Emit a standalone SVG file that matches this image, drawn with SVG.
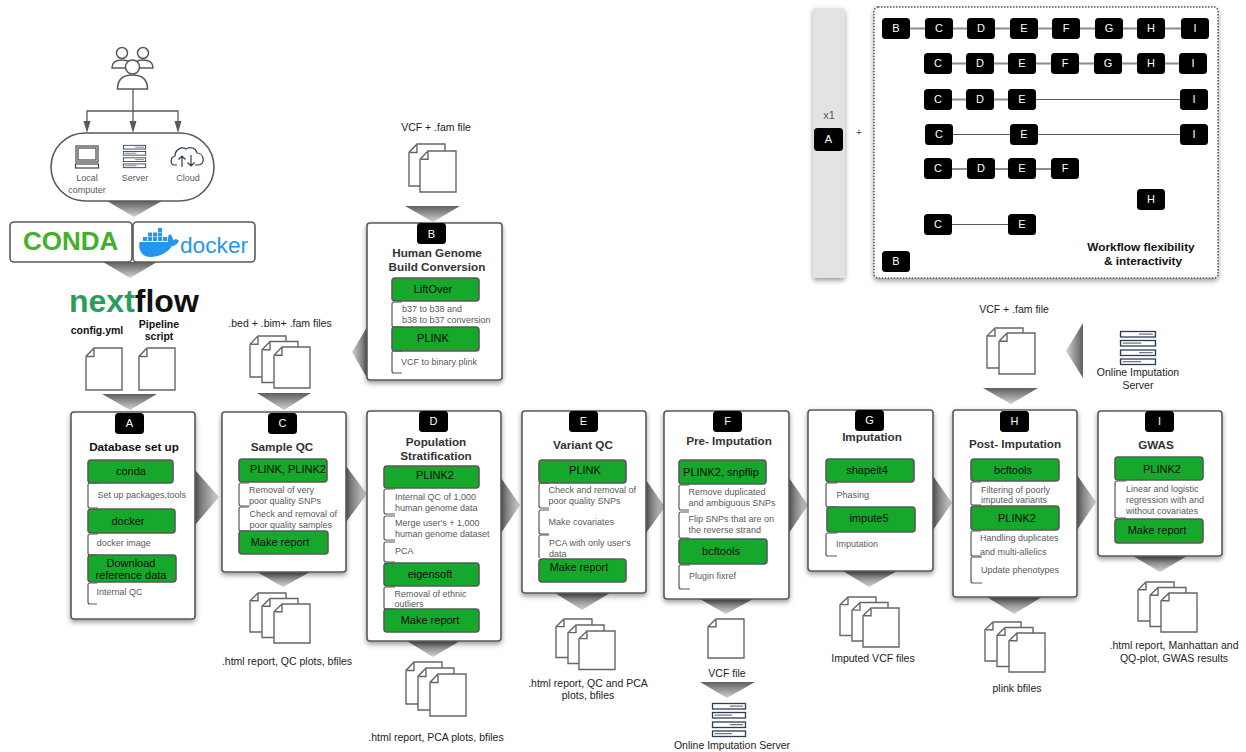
<svg xmlns="http://www.w3.org/2000/svg" width="1246" height="752" viewBox="0 0 1246 752">
<style>
text{font-family:"Liberation Sans",Arial,sans-serif}
.box{fill:#fff;stroke:#595959;stroke-width:1.6;filter:url(#sh)}
.g{fill:#15a82a;stroke:#595959;stroke-width:1.6}
.br{fill:none;stroke:#595959;stroke-width:1.2}
.t{font-weight:bold;font-size:11.7px;fill:#333;text-anchor:middle}
.gt{font-size:11px;fill:#0c0c0c;text-anchor:middle}
.d{font-size:9px;fill:#595959}
.o{font-size:10.5px;fill:#222;text-anchor:middle}
.bt{font-size:11px;fill:#fff;text-anchor:middle}
.ic{font-size:9px;fill:#595959;text-anchor:middle}
.l1{stroke:#8c8c8c;stroke-width:2;fill:none}
.l2{stroke:#595959;stroke-width:1.2;fill:none}
.ar{stroke:#595959;stroke-width:1.3;fill:none}
symbol{overflow:visible}
</style>
<defs>
<filter id="sh" x="-15%" y="-15%" width="130%" height="130%"><feDropShadow dx="0" dy="2.5" stdDeviation="2.5" flood-color="#000" flood-opacity=".4"/></filter>
<linearGradient id="gd" x1="0" y1="0" x2="0" y2="1"><stop offset="0" stop-color="#5e5e5e"/><stop offset="1" stop-color="#d2d2d2"/></linearGradient>
<linearGradient id="gr" x1="0" y1="0" x2="1" y2="0"><stop offset="0" stop-color="#5e5e5e"/><stop offset="1" stop-color="#d2d2d2"/></linearGradient>
<linearGradient id="gl" x1="1" y1="0" x2="0" y2="0"><stop offset="0" stop-color="#5e5e5e"/><stop offset="1" stop-color="#d2d2d2"/></linearGradient>
<symbol id="doc" viewBox="0 0 36 40" preserveAspectRatio="none"><path d="M8 0H36V40H0V8ZM8 1V8H1" fill="#fff" stroke="#666" stroke-width="1.4"/></symbol>
<symbol id="srv" viewBox="0 0 34 34" preserveAspectRatio="none"><g fill="#fff" stroke="#2c3e55" stroke-width="1.3"><rect x=".5" y=".5" width="33" height="5.5"/><rect x=".5" y="9.5" width="33" height="5.5"/><rect x=".5" y="19" width="33" height="5.5"/><rect x=".5" y="28" width="33" height="5.5"/><path d="M18 3.2H31M2.5 12.2H20M18 21.7H31M2.5 30.7H20" stroke="#777"/></g></symbol>
<rect id="bdg" width="29" height="21" rx="3.5" fill="#000"/>
<rect id="bf" width="28" height="21" rx="3.5" fill="#000"/>
</defs>

<g id="strip-A">
<rect x="813" y="8" width="32" height="270" rx="3" fill="#e3e3e3" filter="url(#sh)"/>
<text x="829" y="119" text-anchor="middle" fill="#595959" style="font-size:11px">x1</text>
<rect x="814" y="128" width="29" height="23" rx="3.5" fill="#000"/><text class="bt" x="828.500" y="143">A</text>
<text x="859" y="135.500" text-anchor="middle" fill="#595959" style="font-size:10px">+</text>
</g>

<g id="panel-flex">
<rect x="874" y="7" width="344" height="271" rx="4" fill="#fff" stroke="#595959" stroke-width="1.5" stroke-dasharray="1.500 1.500" filter="url(#sh)"/>
<text x="1141" y="251" font-weight="bold" text-anchor="middle" fill="#111" style="font-size:11.800px">Workflow flexibility</text>
<text x="1143" y="265" font-weight="bold" text-anchor="middle" fill="#111" style="font-size:11.800px">&amp; interactivity</text>
</g>

<g id="connectors">
<path class="ar" d="M133 89V124M133 111H87V124M133 111H178V124"/>
<path d="M83.5 121H90.5L87 133ZM129.5 121H136.5L133 133ZM174.5 121H181.5L178 133Z" fill="#595959"/>
<g fill="url(#gd)">
<path d="M107 201H162L134 217Z"/><path d="M103 262H157L130 278Z"/><path d="M102 394H157L130 410Z"/><path d="M257 393H311L284 410Z"/>
<path d="M405 206H460L433 222Z"/><path d="M257 572H310L283 587Z"/><path d="M407 641H460L433 657Z"/><path d="M555 593H610L582 610Z"/>
<path d="M700 599H753L726 614Z"/><path d="M700 682H755L727 698Z"/><path d="M843 571H897L869 587Z"/><path d="M983 388H1038L1011 404Z"/>
<path d="M987 597H1042L1014 614Z"/><path d="M1133 556H1187L1160 572Z"/>
</g>
<g fill="url(#gr)">
<path d="M195 470L219 497L195 525Z"/><path d="M346 466L367 494L346 522Z"/><path d="M501 478L520 505L501 533Z"/><path d="M646 480L665 507L646 533Z"/>
<path d="M789 478L808 505L789 533Z"/><path d="M933 476L952 503L933 530Z"/><path d="M1077 475L1096 502L1077 530Z"/>
</g>
<g fill="url(#gl)">
<path d="M367 327V378L352 352Z"/><path d="M1083 323V378L1066 351Z"/>
</g>
<g class="l1"><path d="M910 28.500H925M953 28.500H967M994 28.500H1010M1037 28.500H1052M1080 28.500H1095M1123 28.500H1137M1165 28.500H1181M952 63.500H966M994 63.500H1008M1036 63.500H1051M1079 63.500H1094M1122 63.500H1137M1165 63.500H1179M952 99.500H966M994 99.500H1008M952 169H967M995 169H1008M1036 169H1051"/></g>
<g class="l2"><path d="M1036 99.500H1180M953 134.500H1010M1038 134.500H1180M952 224.500H1008"/></g>
</g>

<g id="users" fill="#fff" stroke="#595959" stroke-width="1.5">
<circle cx="122" cy="53" r="5.500"/><path d="M112 68C112 62 117 60 122 60C127 60 132 62 132 68Z"/>
<circle cx="143" cy="53" r="5.500"/><path d="M133 68C133 62 138 60 143 60C148 60 153 62 153 68Z"/>
<circle cx="132.500" cy="67" r="7"/><path d="M117.500 89C117.500 79 124 75 132.500 75C141 75 147.500 79 147.500 89Z"/>
</g>

<g id="compute-env">
<rect x="51" y="133" width="163" height="68" rx="34" fill="#fff" stroke="#595959" stroke-width="1.6"/>
<g fill="#fff" stroke="#444" stroke-width="1.2"><rect x="76" y="146" width="22" height="16"/><rect x="78" y="148" width="18" height="12"/><rect x="75.500" y="164" width="23" height="4"/></g>
<use href="#srv" x="123" y="145" width="23" height="23"/>
<g fill="none" stroke="#2c3e55" stroke-width="1.2"><path d="M177 165H174C170 165 170 157 175 156C175 150 181 146 186 149C190 146 196 148 197 153C204 153 206 165 198 165H195"/><path d="M182 167V156M178.500 159.500L182 156L185.500 159.500M191 155V166M187.500 162.500L191 166L194.500 162.500"/></g>
<text class="ic" x="87" y="181">Local</text><text class="ic" x="87" y="192.500">computer</text>
<text class="ic" x="135" y="181">Server</text><text class="ic" x="188" y="181">Cloud</text>
</g>

<g id="conda">
<rect x="10" y="222" width="122" height="40" rx="4" fill="#fff" stroke="#595959" stroke-width="1.6"/>
<text x="23" y="250" font-weight="bold" fill="#43b02a" style="font-size:26px">CONDA</text>
</g>
<g id="docker">
<rect x="133" y="222" width="122" height="40" rx="4" fill="#fff" stroke="#595959" stroke-width="1.6"/>
<path d="M139.500 242H168C167 238 168.500 235 170 234C172 236 173 238 173 240C175 239 178 239 179 241C177 245 174 246 172 246C168 252 160 257 150 257C142 257 138 250 139.500 242Z" fill="#2496ed"/>
<g fill="#2496ed"><rect x="143" y="237" width="4" height="4"/><rect x="148" y="237" width="4" height="4"/><rect x="153" y="237" width="4" height="4"/><rect x="158" y="237" width="4" height="4"/><rect x="163" y="237" width="4" height="4"/><rect x="148" y="232.500" width="4" height="4"/><rect x="153" y="232.500" width="4" height="4"/><rect x="158" y="232.500" width="4" height="4"/><rect x="158" y="228" width="4" height="4"/></g>
<text x="180" y="253" fill="#2496ed" style="font-size:22.700px">docker</text>
</g>
<g id="nextflow">
<text x="69" y="312" font-weight="bold" style="font-size:32px"><tspan fill="#2a9d5c">next</tspan><tspan fill="#111">flow</tspan></text>
<text x="97" y="334" font-weight="bold" text-anchor="middle" fill="#111" style="font-size:10.500px">config.yml</text>
<text x="159" y="327.500" font-weight="bold" text-anchor="middle" fill="#111" style="font-size:10.500px">Pipeline</text>
<text x="159" y="339.500" font-weight="bold" text-anchor="middle" fill="#111" style="font-size:10.500px">script</text>
<use href="#doc" x="86" y="348" width="36" height="42"/><use href="#doc" x="139" y="348" width="36" height="42"/>
</g>

<g id="input-bed">
<text class="o" x="280" y="327">.bed + .bim+ .fam files</text>
<use href="#doc" x="250" y="336" width="36" height="41"/><use href="#doc" x="262" y="341.500" width="36" height="41"/><use href="#doc" x="274" y="347" width="36" height="41"/>
</g>
<g id="input-vcf">
<text class="o" x="436" y="130.500">VCF + .fam file</text>
<use href="#doc" x="409" y="144" width="36" height="42"/><use href="#doc" x="420" y="151" width="36" height="41"/>
</g>

<g id="node-B">
<rect class="box" x="367" y="223" width="135" height="157" rx="3"/>
<use href="#bdg" x="417" y="223"/><text class="bt" x="431.500" y="238">B</text>
<text class="t" x="437" y="257">Human Genome</text><text class="t" x="437" y="271">Build Conversion</text>
<rect class="g" x="392" y="278" width="87" height="23" rx="3"/><text class="gt" x="433" y="293">LiftOver</text>
<path class="br" d="M402 302H394Q392 302 392 304V325Q392 327 394 327H402"/>
<text class="d" x="402" y="311.500">b37 to b38 and</text><text class="d" x="402" y="322.500">b38 to b37 conversion</text>
<rect class="g" x="392" y="327" width="87" height="24" rx="3"/><text class="gt" x="433" y="342">PLINK</text>
<path class="br" d="M402 373H394Q392 373 392 371V353Q392 351 394 351H402"/>
<text class="d" x="401" y="364.500">VCF to binary plink</text>
</g>

<g id="node-A">
<rect class="box" x="71" y="412" width="124" height="207" rx="3"/>
<use href="#bdg" x="115" y="413"/><text class="bt" x="129.500" y="427">A</text>
<text class="t" x="134" y="451" style="fill:#111">Database set up</text>
<rect class="g" x="88" y="460" width="85" height="23" rx="3"/><text class="gt" x="131" y="475">conda</text>
<path class="br" d="M98 508H90Q88 508 88 506V485Q88 483 90 483H98"/><text class="d" x="97.500" y="498">Set up packages,tools</text>
<rect class="g" x="88" y="509" width="87" height="24" rx="3"/><text class="gt" x="128" y="525">docker</text>
<path class="br" d="M98 555H90Q88 555 88 553V536Q88 534 90 534H98"/><text class="d" x="96.700" y="546">docker image</text>
<rect class="g" x="88" y="555" width="88" height="27" rx="3"/><text class="gt" x="131" y="567">Download</text><text class="gt" x="131" y="579">reference data</text>
<path class="br" d="M97 604H90Q88 604 88 602V585Q88 583 90 583H97"/><text class="d" x="96.500" y="595">Internal QC</text>
</g>

<g id="node-C">
<rect class="box" x="222" y="412" width="124" height="160" rx="3"/>
<use href="#bdg" x="268" y="413"/><text class="bt" x="282.500" y="427">C</text>
<text class="t" x="282" y="451">Sample QC</text>
<rect class="g" x="239" y="459" width="88" height="23" rx="3"/><text class="gt" x="288" y="473">PLINK, PLINK2</text>
<path class="br" d="M249 483H241Q239 483 239 485V504Q239 506 241 506H249"/><text class="d" x="249" y="493">Removal of very</text><text class="d" x="249" y="504">poor quality SNPs</text>
<path class="br" d="M249 507H241Q239 507 239 509V529Q239 531 241 531H249"/><text class="d" x="249.500" y="517">Check and removal of</text><text class="d" x="249.500" y="528">poor quality samples</text>
<rect class="g" x="239" y="531" width="89" height="23" rx="3"/><text class="gt" x="280" y="546">Make report</text>
</g>
<g id="out-C">
<use href="#doc" x="250" y="593" width="36" height="39"/><use href="#doc" x="262" y="598.500" width="36" height="39"/><use href="#doc" x="274" y="604" width="36" height="39"/>
<text class="o" x="287" y="665">.html report, QC plots, bfiles</text>
</g>

<g id="node-D">
<rect class="box" x="367" y="411" width="134" height="230" rx="3"/>
<use href="#bdg" x="419" y="411"/><text class="bt" x="433.500" y="425">D</text>
<text class="t" x="436" y="446">Population</text><text class="t" x="436" y="460">Stratification</text>
<rect class="g" x="384" y="466" width="95" height="22" rx="3"/><text class="gt" x="435" y="479">PLINK2</text>
<path class="br" d="M395 489H386Q384 489 384 491V512Q384 514 386 514H395"/><text class="d" x="395" y="499.500">Internal QC of 1,000</text><text class="d" x="395" y="510.500">human genome data</text>
<path class="br" d="M395 516H386Q384 516 384 518V538Q384 540 386 540H395"/><text class="d" x="395" y="526">Merge user's + 1,000</text><text class="d" x="395" y="536.500">human genome dataset</text>
<path class="br" d="M395 542H386Q384 542 384 544V560Q384 562 386 562H395"/><text class="d" x="395" y="554">PCA</text>
<rect class="g" x="384" y="563" width="95" height="23" rx="3"/><text class="gt" x="430" y="578">eigensoft</text>
<path class="br" d="M395 587H386Q384 587 384 589V607Q384 609 386 609H395"/><text class="d" x="394.500" y="596.500">Removal of ethnic</text><text class="d" x="394.500" y="607">outliers</text>
<rect class="g" x="384" y="609" width="95" height="23" rx="3"/><text class="gt" x="430" y="624">Make report</text>
</g>
<g id="out-D">
<use href="#doc" x="406" y="662" width="36" height="42"/><use href="#doc" x="418" y="668" width="36" height="42"/><use href="#doc" x="430" y="674" width="36" height="42"/>
<text class="o" x="436" y="741">.html report, PCA plots, bfiles</text>
</g>

<g id="node-E">
<rect class="box" x="522" y="411" width="124" height="182" rx="3"/>
<use href="#bdg" x="569" y="411"/><text class="bt" x="583.500" y="425">E</text>
<text class="t" x="583" y="449">Variant QC</text>
<rect class="g" x="539" y="460" width="87" height="23" rx="3"/><text class="gt" x="585" y="474">PLINK</text>
<path class="br" d="M549 483H541Q539 483 539 485V506Q539 508 541 508H549"/><text class="d" x="548.500" y="492.500">Check and removal of</text><text class="d" x="548.500" y="503.500">poor quality SNPs</text>
<path class="br" d="M549 510H541Q539 510 539 512V532Q539 534 541 534H549"/><text class="d" x="548.500" y="524.500">Make covariates</text>
<path class="br" d="M549 535H541Q539 535 539 537V558"/><text class="d" x="549" y="545.500">PCA with only user's</text><text class="d" x="549" y="556.500">data</text>
<rect class="g" x="539" y="559" width="87" height="23" rx="3"/><text class="gt" x="579" y="571">Make report</text>
</g>
<g id="out-E">
<use href="#doc" x="556" y="619" width="36" height="38.500"/><use href="#doc" x="568" y="625" width="36" height="38.500"/><use href="#doc" x="579" y="631" width="36" height="38.500"/>
<text class="o" x="588" y="686.500">.html report, QC and PCA</text><text class="o" x="588" y="699">plots, bfiles</text>
</g>

<g id="node-F">
<rect class="box" x="664" y="411" width="125" height="188" rx="3"/>
<use href="#bdg" x="713" y="411"/><text class="bt" x="727.500" y="425">F</text>
<text class="t" x="729" y="445">Pre- Imputation</text>
<rect class="g" x="679" y="460" width="87" height="24" rx="3"/><text class="gt" x="721" y="476">PLINK2, snpflip</text>
<path class="br" d="M689 485H681Q679 485 679 487V508Q679 510 681 510H689"/><text class="d" x="688.500" y="494.500">Remove duplicated</text><text class="d" x="688.500" y="505.500">and ambiguous SNPs</text>
<path class="br" d="M689 512H681Q679 512 679 514V536Q679 538 681 538H689"/><text class="d" x="688.500" y="522">Flip SNPs that are on</text><text class="d" x="688.500" y="533">the reverse strand</text>
<rect class="g" x="679" y="539" width="88" height="25" rx="3"/><text class="gt" x="721" y="555">bcftools</text>
<path class="br" d="M690 589H681Q679 589 679 587V567Q679 565 681 565H690"/><text class="d" x="689" y="578.500">Plugin fixref</text>
</g>
<g id="out-F">
<use href="#doc" x="708" y="619" width="36" height="39"/>
<text class="o" x="727" y="677">VCF file</text>
<use href="#srv" x="712" y="703" width="34" height="34"/>
<text class="o" x="732" y="749">Online Imputation Server</text>
</g>

<g id="node-G">
<rect class="box" x="808" y="410" width="125" height="161" rx="3"/>
<use href="#bdg" x="855" y="410"/><text class="bt" x="869.500" y="424">G</text>
<text class="t" x="872" y="441">Imputation</text>
<rect class="g" x="826" y="459" width="88" height="23" rx="3"/><text class="gt" x="867" y="474">shapeit4</text>
<path class="br" d="M837 483H828Q826 483 826 485V505Q826 507 828 507H837"/><text class="d" x="836.500" y="497.500">Phasing</text>
<rect class="g" x="827" y="507" width="88" height="25" rx="3"/><text class="gt" x="869" y="522">impute5</text>
<path class="br" d="M837 556H828Q826 556 826 554V535Q826 533 828 533H837"/><text class="d" x="836" y="546.500">Imputation</text>
</g>
<g id="out-G">
<use href="#doc" x="840" y="597" width="36" height="38.500"/><use href="#doc" x="852" y="602.500" width="36" height="38.500"/><use href="#doc" x="863" y="608" width="36" height="39"/>
<text class="o" x="873" y="662">Imputed VCF files</text>
</g>

<g id="input-H">
<text class="o" x="1014" y="313">VCF + .fam file</text>
<use href="#doc" x="987" y="328" width="36" height="40"/><use href="#doc" x="999" y="333" width="36" height="41"/>
</g>
<g id="online-server">
<use href="#srv" x="1120" y="331" width="36" height="34"/>
<text class="o" x="1138" y="376">Online Imputation</text><text class="o" x="1138" y="389">Server</text>
</g>

<g id="node-H">
<rect class="box" x="953" y="410" width="124" height="187" rx="3"/>
<use href="#bdg" x="1000" y="411"/><text class="bt" x="1014.500" y="425">H</text>
<text class="t" x="1015" y="448">Post- Imputation</text>
<rect class="g" x="971" y="459" width="88" height="22" rx="3"/><text class="gt" x="1013" y="474">bcftools</text>
<path class="br" d="M981 482H973Q971 482 971 484V503Q971 505 973 505H981"/><text class="d" x="981" y="492.500">Filtering of poorly</text><text class="d" x="981" y="503">imputed variants</text>
<rect class="g" x="971" y="506" width="88" height="24" rx="3"/><text class="gt" x="1017" y="521.500">PLINK2</text>
<path class="br" d="M981 531H973Q971 531 971 533V554Q971 556 973 556H981"/><text class="d" x="980" y="540.500">Handling duplicates</text><text class="d" x="980" y="554.500">and multi-allelics</text>
<path class="br" d="M982 557H973Q971 557 971 559V581Q971 583 973 583H982"/><text class="d" x="981" y="572.500">Update phenotypes</text>
</g>
<g id="out-H">
<use href="#doc" x="985" y="622" width="36" height="39"/><use href="#doc" x="997" y="627.500" width="36" height="39"/><use href="#doc" x="1009" y="633" width="36" height="39"/>
<text class="o" x="1017" y="691.500">plink bfiles</text>
</g>

<g id="node-I">
<rect class="box" x="1098" y="411" width="124" height="145" rx="3"/>
<use href="#bdg" x="1145" y="411"/><text class="bt" x="1159.500" y="425">I</text>
<text class="t" x="1156" y="449">GWAS</text>
<rect class="g" x="1115" y="457" width="88" height="23" rx="3"/><text class="gt" x="1162" y="473">PLINK2</text>
<path class="br" d="M1126 481H1117Q1115 481 1115 483V516Q1115 518 1117 518H1126"/><text class="d" x="1126" y="491.500">Linear and logistic</text><text class="d" x="1126" y="502.500">regression with and</text><text class="d" x="1126" y="513.500">without covariates</text>
<rect class="g" x="1115" y="519" width="88" height="24" rx="3"/><text class="gt" x="1157" y="534">Make report</text>
</g>
<g id="out-I">
<use href="#doc" x="1138" y="582" width="36" height="39"/><use href="#doc" x="1150" y="587.500" width="36" height="39"/><use href="#doc" x="1161" y="593" width="36" height="39"/>
<text class="o" x="1174" y="649">.html report, Manhattan and</text><text class="o" x="1174" y="661.500">QQ-plot, GWAS results</text>
</g>

<g id="flex-nodes">
<g id="r1"><use href="#bf" x="882" y="18"/><text class="bt" x="896" y="32">B</text><use href="#bf" x="925" y="18"/><text class="bt" x="939" y="32">C</text><use href="#bf" x="967" y="18"/><text class="bt" x="981" y="32">D</text><use href="#bf" x="1010" y="18"/><text class="bt" x="1024" y="32">E</text><use href="#bf" x="1052" y="18"/><text class="bt" x="1066" y="32">F</text><use href="#bf" x="1095" y="18"/><text class="bt" x="1109" y="32">G</text><use href="#bf" x="1137" y="18"/><text class="bt" x="1151" y="32">H</text><use href="#bf" x="1181" y="18"/><text class="bt" x="1195" y="32">I</text></g>
<g id="r2"><use href="#bf" x="924" y="53"/><text class="bt" x="938" y="67">C</text><use href="#bf" x="966" y="53"/><text class="bt" x="980" y="67">D</text><use href="#bf" x="1008" y="53"/><text class="bt" x="1022" y="67">E</text><use href="#bf" x="1051" y="53"/><text class="bt" x="1065" y="67">F</text><use href="#bf" x="1094" y="53"/><text class="bt" x="1108" y="67">G</text><use href="#bf" x="1137" y="53"/><text class="bt" x="1151" y="67">H</text><use href="#bf" x="1179" y="53"/><text class="bt" x="1193" y="67">I</text></g>
<g id="r3"><use href="#bf" x="924" y="89"/><text class="bt" x="938" y="103">C</text><use href="#bf" x="966" y="89"/><text class="bt" x="980" y="103">D</text><use href="#bf" x="1008" y="89"/><text class="bt" x="1022" y="103">E</text><use href="#bf" x="1180" y="89"/><text class="bt" x="1194" y="103">I</text></g>
<g id="r4"><use href="#bf" x="925" y="124"/><text class="bt" x="939" y="138">C</text><use href="#bf" x="1010" y="124"/><text class="bt" x="1024" y="138">E</text><use href="#bf" x="1180" y="124"/><text class="bt" x="1194" y="138">I</text></g>
<g id="r5"><use href="#bf" x="924" y="158"/><text class="bt" x="938" y="172">C</text><use href="#bf" x="967" y="158"/><text class="bt" x="981" y="172">D</text><use href="#bf" x="1008" y="158"/><text class="bt" x="1022" y="172">E</text><use href="#bf" x="1051" y="158"/><text class="bt" x="1065" y="172">F</text></g>
<g id="r6"><use href="#bf" x="1137" y="189"/><text class="bt" x="1151" y="203">H</text></g>
<g id="r7"><use href="#bf" x="924" y="214"/><text class="bt" x="938" y="228">C</text><use href="#bf" x="1008" y="214"/><text class="bt" x="1022" y="228">E</text></g>
<g id="r8"><use href="#bf" x="882" y="251"/><text class="bt" x="896" y="265">B</text></g>
</g>
</svg>
